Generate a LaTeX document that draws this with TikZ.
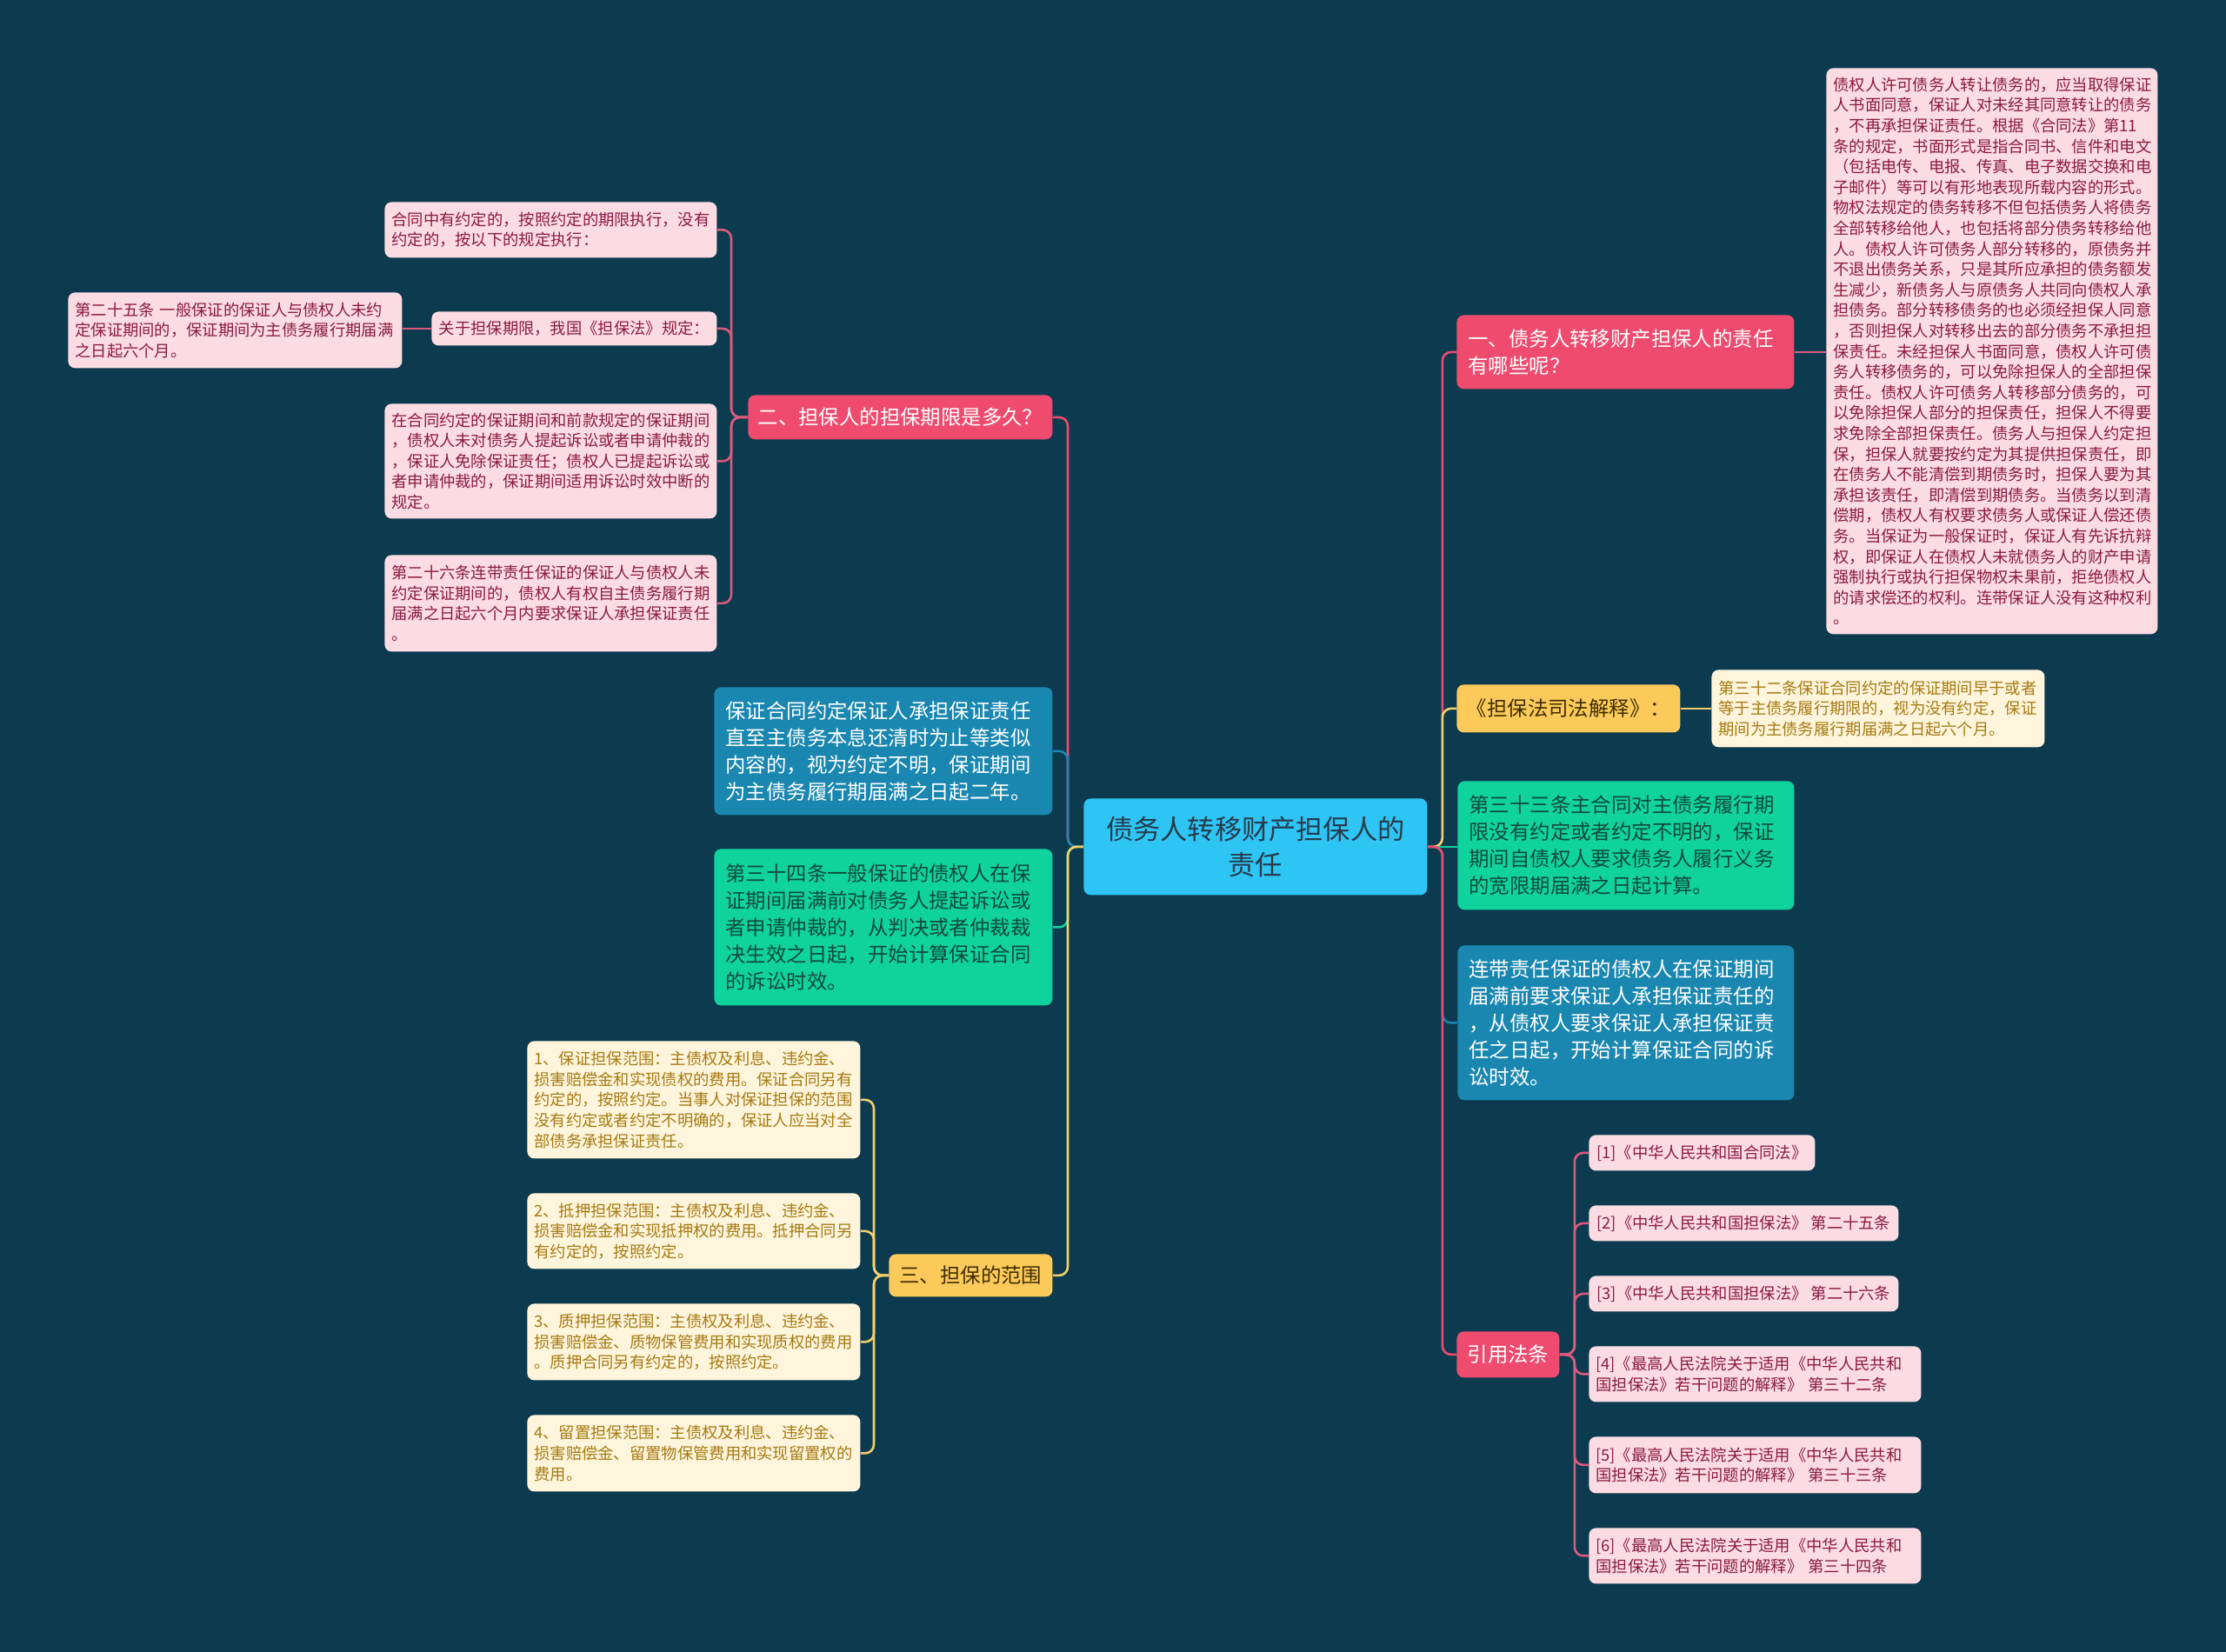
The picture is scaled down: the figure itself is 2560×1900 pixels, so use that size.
\documentclass[tikz,border=0pt]{standalone}
\usepackage{fontspec}
\setmainfont{Noto Sans CJK SC}
\definecolor{bg}{HTML}{0C3A4E}
\definecolor{redn}{HTML}{EE4B6E}
\definecolor{pinkfill}{HTML}{FCDCE3}
\definecolor{pinktext}{HTML}{8A1A43}
\definecolor{pinkline}{HTML}{DB5A7E}
\definecolor{bluen}{HTML}{1A87B1}
\definecolor{cyann}{HTML}{2EC4F4}
\definecolor{centertext}{HTML}{263B4C}
\definecolor{greenn}{HTML}{10D29C}
\definecolor{greentext}{HTML}{0F4B3C}
\definecolor{yellown}{HTML}{FCCA5B}
\definecolor{yellowtext}{HTML}{3F2E00}
\definecolor{yellowline}{HTML}{F2D06A}
\definecolor{creamfill}{HTML}{FEF5DC}
\definecolor{creamtext}{HTML}{A67A12}
\begin{document}
\begin{tikzpicture}[x=0.5pt,y=-0.5pt,
  box/.style={rounded corners=4pt, inner ysep=0pt, anchor=north west},
  sm/.style={font=\fontsize{9.15}{11.8}\selectfont, inner xsep=4pt, align=left},
  md/.style={font=\fontsize{11.7}{15.5}\selectfont, inner xsep=6.5pt, align=left},
  one/.style={align=center, inner xsep=0pt},
  pinkbox/.style={box, sm, fill=pinkfill, text=pinktext},
  creambox/.style={box, sm, fill=creamfill, text=creamtext},
  rednode/.style={box, md, fill=redn, text=white},
  bluenode/.style={box, md, fill=bluen, text=white},
  greennode/.style={box, md, fill=greenn, text=greentext},
  yellownode/.style={box, md, fill=yellown, text=yellowtext},
  ln/.style={line width=1.3pt, rounded corners=5pt},
  redln/.style={ln, draw=redn},
  pinkln/.style={ln, draw=pinkline},
  blueln/.style={ln, draw=bluen},
  greenln/.style={ln, draw=greenn},
  yellowln/.style={ln, draw=yellowline}
]
\fill[bg] (0,0) rectangle (2560,1900);
\useasboundingbox (0,0) rectangle (2560,1900);

% center
\node[box, align=center, inner xsep=0pt, fill=cyann, text=centertext,
  font=\fontsize{15.6}{20.5}\selectfont, minimum width=197.5pt, minimum height=55.5pt]
  (C) at (1246,918) {债务人转移财产担保人的\\责任};

% ---------- left side ----------
\node[rednode, one, minimum width=175pt, minimum height=25.5pt] (L1) at (860,454)
  {二、担保人的担保期限是多久？};

\node[pinkbox, text width=183pt, minimum height=32pt] (P1) at (442,232)
  {合同中有约定的，按照约定的期限执行，没有\\约定的，按以下的规定执行：};
\node[pinkbox, one, minimum width=164pt, minimum height=19.5pt] (P2) at (496,358)
  {关于担保期限，我国《担保法》规定：};
\node[pinkbox, text width=184pt, minimum height=43.5pt] (P2a) at (78,336)
  {第二十五条~一般保证的保证人与债权人未约\\定保证期间的，保证期间为主债务履行期届满\\之日起六个月。};
\node[pinkbox, text width=183pt, minimum height=66pt] (P3) at (442,464)
  {在合同约定的保证期间和前款规定的保证期间\\，债权人未对债务人提起诉讼或者申请仲裁的\\，保证人免除保证责任；债权人已提起诉讼或\\者申请仲裁的，保证期间适用诉讼时效中断的\\规定。};
\node[pinkbox, text width=183pt, minimum height=55.5pt] (P4) at (442,638)
  {第二十六条连带责任保证的保证人与债权人未\\约定保证期间的，债权人有权自主债务履行期\\届满之日起六个月内要求保证人承担保证责任\\。};

\node[bluenode, text width=181.5pt, minimum height=73.5pt] (B1) at (821,790)
  {保证合同约定保证人承担保证责任\\直至主债务本息还清时为止等类似\\内容的，视为约定不明，保证期间\\为主债务履行期届满之日起二年。};
\node[greennode, text width=181.5pt, minimum height=90pt] (G1) at (821,976)
  {第三十四条一般保证的债权人在保\\证期间届满前对债务人提起诉讼或\\者申请仲裁的，从判决或者仲裁裁\\决生效之日起，开始计算保证合同\\的诉讼时效。};

\node[yellownode, one, minimum width=94pt, minimum height=24.5pt] (Y1) at (1022,1442)
  {三、担保的范围};
\node[creambox, text width=183.5pt, minimum height=67.5pt] (Y1a) at (606,1197)
  {1、保证担保范围：主债权及利息、违约金、\\损害赔偿金和实现债权的费用。保证合同另有\\约定的，按照约定。当事人对保证担保的范围\\没有约定或者约定不明确的，保证人应当对全\\部债务承担保证责任。};
\node[creambox, text width=183.5pt, minimum height=43.5pt] (Y1b) at (606,1372)
  {2、抵押担保范围：主债权及利息、违约金、\\损害赔偿金和实现抵押权的费用。抵押合同另\\有约定的，按照约定。};
\node[creambox, text width=183.5pt, minimum height=44pt] (Y1c) at (606,1499)
  {3、质押担保范围：主债权及利息、违约金、\\损害赔偿金、质物保管费用和实现质权的费用\\。质押合同另有约定的，按照约定。};
\node[creambox, text width=183.5pt, minimum height=44pt] (Y1d) at (606,1627)
  {4、留置担保范围：主债权及利息、违约金、\\损害赔偿金、留置物保管费用和实现留置权的\\费用。};

% ---------- right side ----------
\node[rednode, text width=181pt, minimum height=42.5pt] (R1) at (1675,362)
  {一、债务人转移财产担保人的责任\\有哪些呢？};
\node[pinkbox, text width=182.5pt, minimum height=325.5pt] (R1a) at (2100,78)
  {债权人许可债务人转让债务的，应当取得保证\\人书面同意，保证人对未经其同意转让的债务\\，不再承担保证责任。根据《合同法》第11\\条的规定，书面形式是指合同书、信件和电文\\（包括电传、电报、传真、电子数据交换和电\\子邮件）等可以有形地表现所载内容的形式。\\物权法规定的债务转移不但包括债务人将债务\\全部转移给他人，也包括将部分债务转移给他\\人。债权人许可债务人部分转移的，原债务并\\不退出债务关系，只是其所应承担的债务额发\\生减少，新债务人与原债务人共同向债权人承\\担债务。部分转移债务的也必须经担保人同意\\，否则担保人对转移出去的部分债务不承担担\\保责任。未经担保人书面同意，债权人许可债\\务人转移债务的，可以免除担保人的全部担保\\责任。债权人许可债务人转移部分债务的，可\\以免除担保人部分的担保责任，担保人不得要\\求免除全部担保责任。债务人与担保人约定担\\保，担保人就要按约定为其提供担保责任，即\\在债务人不能清偿到期债务时，担保人要为其\\承担该责任，即清偿到期债务。当债务以到清\\偿期，债权人有权要求债务人或保证人偿还债\\务。当保证为一般保证时，保证人有先诉抗辩\\权，即保证人在债权人未就债务人的财产申请\\强制执行或执行担保物权未果前，拒绝债权人\\的请求偿还的权利。连带保证人没有这种权利\\。};

\node[yellownode, one, minimum width=128.5pt, minimum height=27.5pt] (R2) at (1675,787)
  {《担保法司法解释》：};
\node[creambox, text width=183.5pt, minimum height=44.5pt] (R2a) at (1968,770)
  {第三十二条保证合同约定的保证期间早于或者\\等于主债务履行期限的，视为没有约定，保证\\期间为主债务履行期届满之日起六个月。};

\node[greennode, text width=180.5pt, minimum height=74pt] (R3) at (1676,898)
  {第三十三条主合同对主债务履行期\\限没有约定或者约定不明的，保证\\期间自债权人要求债务人履行义务\\的宽限期届满之日起计算。};
\node[bluenode, text width=180.5pt, minimum height=89pt] (R4) at (1676,1087)
  {连带责任保证的债权人在保证期间\\届满前要求保证人承担保证责任的\\，从债权人要求保证人承担保证责\\任之日起，开始计算保证合同的诉\\讼时效。};

\node[rednode, one, minimum width=59pt, minimum height=26.5pt] (R5) at (1675,1531)
  {引用法条};
\node[pinkbox, one, minimum width=130pt, minimum height=20.5pt] (F1) at (1827,1305)
  {[1]《中华人民共和国合同法》};
\node[pinkbox, one, minimum width=178pt, minimum height=20.5pt] (F2) at (1827,1386)
  {[2]《中华人民共和国担保法》~第二十五条};
\node[pinkbox, one, minimum width=178pt, minimum height=20.5pt] (F3) at (1827,1467)
  {[3]《中华人民共和国担保法》~第二十六条};
\node[pinkbox, text width=183pt, minimum height=32pt] (F4) at (1827,1548)
  {[4]《最高人民法院关于适用《中华人民共和\\国担保法》若干问题的解释》~第三十二条};
\node[pinkbox, text width=183pt, minimum height=32.5pt] (F5) at (1827,1652)
  {[5]《最高人民法院关于适用《中华人民共和\\国担保法》若干问题的解释》~第三十三条};
\node[pinkbox, text width=183pt, minimum height=32pt] (F6) at (1827,1757)
  {[6]《最高人民法院关于适用《中华人民共和\\国担保法》若干问题的解释》~第三十四条};

% ---------- connectors ----------
\draw[redln] (C.west) -- ++(-18,0) |- (L1.east);
\draw[blueln] (C.west) -- ++(-18,0) |- (B1.east);
\draw[greenln] (C.west) -- ++(-18,0) |- (G1.east);
\draw[yellowln] (C.west) -- ++(-18,0) |- (Y1.east);

\draw[pinkln] (L1.west) -- ++(-19,0) |- (P1.east);
\draw[pinkln] (L1.west) -- ++(-19,0) |- (P2.east);
\draw[pinkln] (L1.west) -- ++(-19,0) |- (P3.east);
\draw[pinkln] (L1.west) -- ++(-19,0) |- (P4.east);
\draw[pinkln] (P2.west) -- (P2.west -| P2a.east);

\draw[yellowln] (Y1.west) -- ++(-17,0) |- (Y1a.east);
\draw[yellowln] (Y1.west) -- ++(-17,0) |- (Y1b.east);
\draw[yellowln] (Y1.west) -- ++(-17,0) |- (Y1c.east);
\draw[yellowln] (Y1.west) -- ++(-17,0) |- (Y1d.east);

\draw[redln] (C.east) -- ++(17,0) |- (R1.west);
\draw[yellowln] (C.east) -- ++(17,0) |- (R2.west);
\draw[greenln] (C.east) -- (C.east -| R3.west);
\draw[blueln] (C.east) -- ++(17,0) |- (R4.west);
\draw[redln] (C.east) -- ++(17,0) |- (R5.west);

\draw[pinkln] (R1.east) -- (R1.east -| R1a.west);
\draw[yellowln] (R2.east) -- (R2.east -| R2a.west);

\draw[pinkln] (R5.east) -- ++(17,0) |- (F1.west);
\draw[pinkln] (R5.east) -- ++(17,0) |- (F2.west);
\draw[pinkln] (R5.east) -- ++(17,0) |- (F3.west);
\draw[pinkln] (R5.east) -- ++(17,0) |- (F4.west);
\draw[pinkln] (R5.east) -- ++(17,0) |- (F5.west);
\draw[pinkln] (R5.east) -- ++(17,0) |- (F6.west);
\end{tikzpicture}
\end{document}
